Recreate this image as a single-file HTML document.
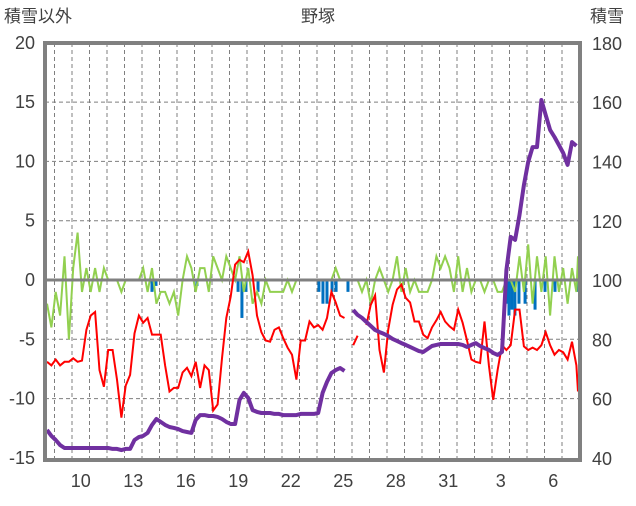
<!DOCTYPE html>
<html><head><meta charset="utf-8"><style>
body{margin:0;background:#fff;width:636px;height:501px;overflow:hidden}
svg text{font-family:"Liberation Sans","Noto Sans CJK JP",sans-serif;fill:#404040}
</style></head><body>
<svg id="c" width="636" height="501">
<text x="4" y="22" font-size="17">積雪以外</text>
<text x="318" y="22" font-size="17" text-anchor="middle">野塚</text>
<text x="590" y="22" font-size="17">積雪</text>
</svg>
<script>
const leftTicks=[20,15,10,5,0,-5,-10,-15];
const rightTicks=[180,160,140,120,100,80,60,40];
const dayLabels=["10","13","16","19","22","25","28","31","3","6"];
const dayLabelT=[10,13,16,19,22,25,28,31,34,37];
const tStart=8.57, tStep=0.25;
const redVals=[-6.9,-7.2,-6.7,-7.2,-6.9,-6.9,-6.6,-6.9,-6.8,-4.2,-3.0,-2.7,-7.6,-9.0,-5.9,-5.9,-8.4,-11.6,-8.9,-8.0,-4.5,-3.0,-3.6,-3.2,-4.6,-4.6,-4.6,-7.2,-9.4,-9.1,-9.1,-7.8,-7.4,-8.1,-6.9,-9.1,-7.2,-7.6,-11.0,-10.5,-6.6,-3.2,-1.4,1.3,1.7,1.5,2.4,0.4,-3.0,-4.4,-5.1,-5.2,-4.2,-4.0,-4.9,-5.7,-6.3,-8.4,-5.1,-5.1,-3.5,-4.0,-3.8,-4.2,-3.2,-1.0,-1.9,-3.0,-3.2,null,-5.5,-4.7,null,-3.8,-2.1,-1.3,-5.9,-7.8,-4.2,-2.1,-0.8,-0.4,-1.5,-1.9,-3.5,-3.5,-4.6,-4.9,-4.0,-3.4,-2.7,-3.5,-3.9,-4.2,-2.5,-3.6,-5.1,-6.7,-6.9,-7.0,-3.5,-7.2,-10.1,-7.6,-5.5,-5.9,-5.5,-2.5,-2.5,-5.6,-5.9,-5.7,-5.9,-5.5,-4.4,-5.5,-6.3,-5.9,-6.1,-6.7,-5.2,-7.2,-9.4];
const snowVals=[49.8,47.8,46.4,44.7,43.7,43.7,43.7,43.7,43.7,43.7,43.7,43.7,43.7,43.7,43.7,43.4,43.4,43.0,43.4,43.4,46.4,47.4,47.8,48.8,51.5,53.5,52.5,51.5,50.8,50.5,50.1,49.4,49.1,48.8,53.2,54.8,54.8,54.5,54.5,54.2,53.5,52.5,51.8,51.8,59.9,62.3,60.6,56.5,55.9,55.5,55.5,55.5,55.2,55.2,54.8,54.8,54.8,54.8,55.2,55.2,55.2,55.2,55.5,62.3,66.0,69.0,70.0,70.7,69.7,null,90.3,88.6,87.6,86.2,84.9,83.5,82.8,82.2,81.5,80.5,79.8,79.1,78.5,77.8,77.1,76.4,76.1,77.1,78.1,78.5,78.8,78.8,78.8,78.8,78.8,78.5,77.8,78.5,79.1,78.1,77.4,76.8,75.8,75.1,76.1,103.7,114.9,113.9,122.3,132.4,140.2,145.2,145.2,161.1,156.0,151.0,148.6,145.9,143.2,139.2,146.9,145.6];
const greenVals=[-2,-4,-1,-3,2,-5,1,4,-1,1,-1,1,-1,1,0,0,0,-1,0,0,0,0,1,-1,1,-2,-1,-1,-2,-1,-3,0,2,1,-1,1,1,-1,2,1,0,2,1,0,2,-1,1,-2,-1,-2,0,-1,-1,-1,-1,0,-1,0,0,0,0,0,0,0,0,0,1,0,0,0,0,0,-1,0,-2,0,1,0,-1,0,2,-1,1,-1,0,-1,-1,-1,0,2,1,2,1,-1,2,-1,1,-1,0,0,-1,0,0,-1,-1,0,0,-1,2,-1,3,-2,2,-1,2,-3,2,-1,1,-2,1,-1,2,0];
const blueT=[14.57,14.8,17.14,19.49,19.71,19.94,20.63,24.11,24.34,24.57,24.86,25.09,25.77,34.8,34.97,35.14,35.31,35.54,35.89,36.46,37.03,37.6,38.91];
const blueV=[-1,-0.5,-0.5,-1,-3.2,-1,-1,-1,-2,-2,-1,-1,-1,-2,-3,-2.5,-3,-2,-2,-2.5,-1,-1,-1];

const L=45,R=580,T=43,B=460;
const xT=t=>72+(t-10)*17.5;
const yL=v=>280-v*11.86;
const yR=v=>459-(v-40)/0.3373;
const NS="http://www.w3.org/2000/svg";
const svg=document.getElementById('c');
function mk(tag,attrs){const e=document.createElementNS(NS,tag);for(const k in attrs)e.setAttribute(k,attrs[k]);svg.appendChild(e);return e;}

for(let d=9;d<=38;d++){const x=xT(d);if(x<=L+2||x>=R-2)continue;
 const g=mk('line',{x1:x,x2:x,y1:T,y2:B,stroke:'#7f7f7f','stroke-width':1,'stroke-dasharray':'4,3'});
 
 }
leftTicks.forEach((v,i)=>{const y=yL(v);
 if(v!==0&&v!==20&&v!==-15){const g=mk('line',{x1:L,x2:R,y1:y,y2:y,stroke:'#7f7f7f','stroke-width':1,'stroke-dasharray':'4,3'});
 
 }
 const t=mk('text',{x:35,y:y+6,'font-size':18,'text-anchor':'end'});t.textContent=v;
 
 
 const r=mk('text',{x:592,y:yR(rightTicks[i])+6,'font-size':18});r.textContent=rightTicks[i];
 
 
});
dayLabels.forEach((s,i)=>{const t=mk('text',{x:xT(dayLabelT[i]+0.5),y:487,'font-size':18,'text-anchor':'middle'});t.textContent=s;
 
 });

function path(vals,yf){let d='',pen=false;vals.forEach((v,i)=>{if(v===null){pen=false;return;}
 const x=Math.min(xT(tStart+i*tStep),R-2);d+=(pen?'L':'M')+x.toFixed(1)+','+yf(v).toFixed(1);pen=true;});return d;}
blueT.forEach((t,i)=>{const x=xT(t),y0=yL(0),y1=yL(blueV[i]);
 const b=mk('rect',{x:x-1.5,y:y0,width:3,height:y1-y0,fill:'#0070c0'});
 
 });
const g=mk('path',{d:path(greenVals,yL),fill:'none',stroke:'#92d050','stroke-width':2});


const z=mk('line',{x1:L,x2:R,y1:yL(0),y2:yL(0),stroke:'#808080','stroke-width':3});


const r=mk('path',{d:path(redVals,yL),fill:'none',stroke:'#ff0000','stroke-width':2});


const p=mk('path',{d:path(snowVals,yR),fill:'none',stroke:'#7030a0','stroke-width':4,'stroke-linejoin':'round'});


const f=mk('rect',{x:L,y:T,width:R-L,height:B-T,fill:'none',stroke:'#808080','stroke-width':4});


</script>
</body></html>
